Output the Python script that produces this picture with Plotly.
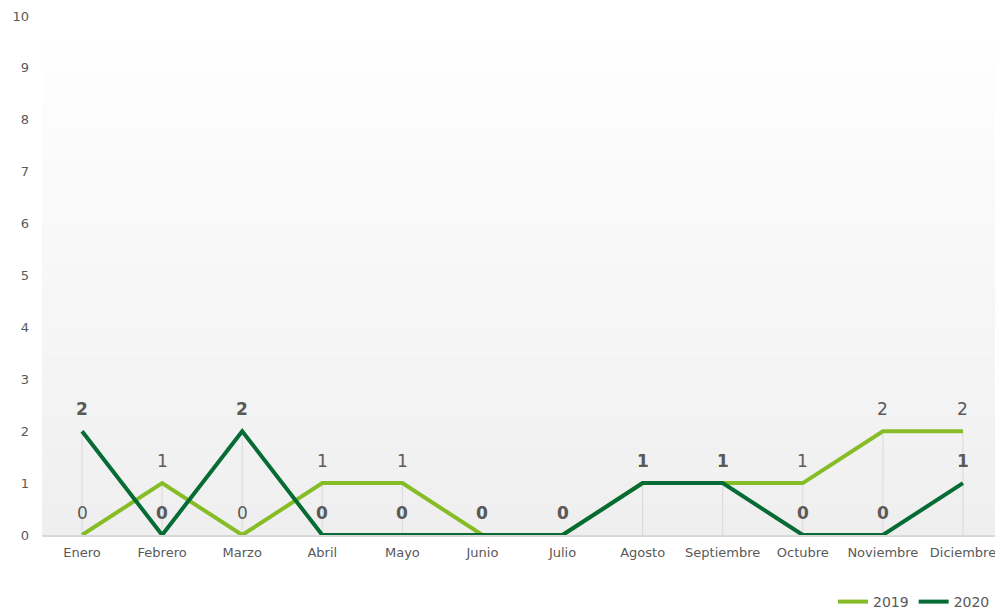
import plotly.graph_objects as go

months = ["Enero", "Febrero", "Marzo", "Abril", "Mayo", "Junio", "Julio",
          "Agosto", "Septiembre", "Octubre", "Noviembre", "Diciembre"]
values_2019 = [0, 1, 0, 1, 1, 0, 0, 1, 1, 1, 2, 2]
values_2020 = [2, 0, 2, 0, 0, 0, 0, 1, 1, 0, 0, 1]
y_ticks = list(range(0, 11))

C2019 = "#86bd27"
C2020 = "#066b35"
TXT = "#595959"

fig = go.Figure()

# drop lines from each point down to the axis
dx, dy = [], []
for m, a, b in zip(months, values_2019, values_2020):
    top = max(a, b)
    if top > 0:
        dx += [m, m, None]
        dy += [0, top, None]
fig.add_trace(go.Scatter(x=dx, y=dy, mode="lines", line=dict(color="#d9d9d9", width=1),
                         hoverinfo="skip", showlegend=False))

fig.add_trace(go.Scatter(x=months, y=values_2019, name="2019", mode="lines",
                         line=dict(color=C2019, width=4)))
fig.add_trace(go.Scatter(x=months, y=values_2020, name="2020", mode="lines",
                         line=dict(color=C2020, width=4)))

# value labels
for m, v in zip(months, values_2019):
    fig.add_annotation(x=m, y=v, text=str(v), showarrow=False, yshift=22,
                       font=dict(family="DejaVu Sans", size=17, color=TXT))
for m, v in zip(months, values_2020):
    fig.add_annotation(x=m, y=v, text="<b>%d</b>" % v, showarrow=False, yshift=22,
                       font=dict(family="DejaVu Sans", size=17, color=TXT))

# background gradient (white at top to light grey at bottom)
n = 40
for i in range(n):
    t = i / (n - 1)
    g = int(round(255 - (255 - 239) * t))
    fig.add_shape(type="rect", xref="paper", yref="paper",
                  x0=0, x1=1, y0=1 - (i + 1) / n, y1=1 - i / n,
                  fillcolor="rgb(%d,%d,%d)" % (g, g, g), line=dict(width=0),
                  layer="below")

fig.update_layout(
    width=995, height=611,
    margin=dict(l=42, r=0, t=16, b=76, autoexpand=False),
    paper_bgcolor="white", plot_bgcolor="rgba(0,0,0,0)",
    font=dict(family="DejaVu Sans", color=TXT, size=12),
    showlegend=True,
    legend=dict(orientation="h", x=1.0, xanchor="right", y=0.0147, yanchor="middle",
                yref="container",
                font=dict(size=14, color=TXT),
                itemwidth=30, traceorder="normal", bgcolor="rgba(0,0,0,0)"),
    xaxis=dict(type="category", categoryarray=months, range=[-0.5, 11.4],
               showgrid=False, zeroline=False, showline=True, linecolor="#d9d9d9",
               linewidth=2, ticks="", ticklabelstandoff=4,
               tickfont=dict(size=13, color=TXT), fixedrange=True),
    yaxis=dict(range=[0, 10], tickvals=y_ticks, showgrid=False, zeroline=False,
               showline=False, ticks="", ticklabelstandoff=12,
               tickfont=dict(size=13, color=TXT)),
)

fig.write_html("out.html", config={"displayModeBar": False},
               post_script="document.body.style.margin='0';document.body.style.overflow='hidden';")
